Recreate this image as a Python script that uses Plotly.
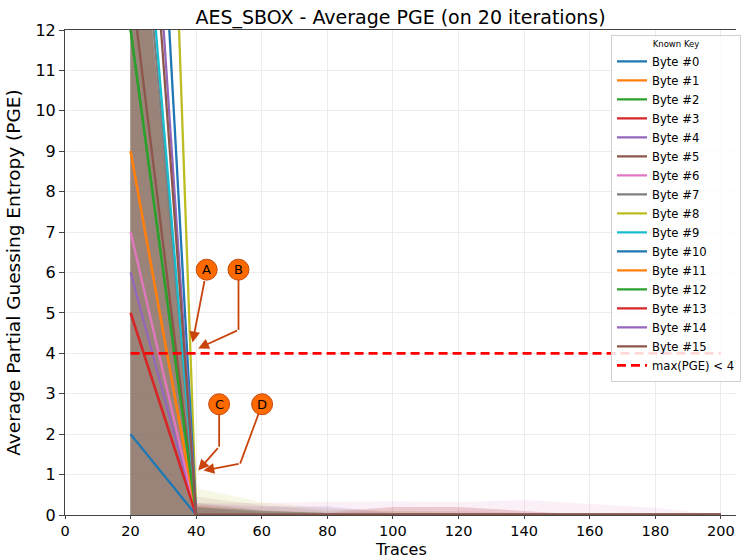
import plotly.graph_objects as go

# ---------------- data ----------------
traces_x = [20, 40, 60, 80, 100, 120, 140, 160, 180, 200]

byte_names = [f"Byte #{i}" for i in range(16)]
byte_colors = ["#1f77b4", "#ff7f0e", "#2ca02c", "#d62728", "#9467bd", "#8c564b",
               "#e377c2", "#7f7f7f", "#bcbd22", "#17becf", "#1f77b4", "#ff7f0e",
               "#2ca02c", "#d62728", "#9467bd", "#8c564b"]

# average PGE per byte (values at 20, 40, ..., 200 traces)
pge_byte0 = [2.0, 0, 0, 0, 0, 0, 0, 0, 0, 0]
pge_byte1 = [9.0, 0, 0, 0, 0, 0, 0, 0, 0, 0]
pge_byte2 = [12.0, 0, 0, 0, 0, 0, 0, 0, 0, 0]
pge_byte3 = [5.0, 0, 0, 0, 0, 0, 0, 0, 0, 0]
pge_byte4 = [6.0, 0, 0, 0, 0, 0, 0, 0, 0, 0]
pge_byte5 = [13.3, 0, 0, 0, 0, 0, 0, 0, 0, 0]
pge_byte6 = [7.0, 0, 0, 0, 0, 0, 0, 0, 0, 0]
pge_byte7 = [18.5, 0, 0, 0, 0, 0, 0, 0, 0, 0]
pge_byte8 = [46.0, 0, 0, 0, 0, 0, 0, 0, 0, 0]
pge_byte9 = [19.5, 0, 0, 0, 0, 0, 0, 0, 0, 0]
pge_byte10 = [29.3, 0, 0, 0, 0, 0, 0, 0, 0, 0]
pge_byte11 = [9.0, 0, 0, 0, 0, 0, 0, 0, 0, 0]
pge_byte12 = [12.0, 0, 0, 0, 0, 0, 0, 0, 0, 0]
pge_byte13 = [5.0, 0, 0, 0, 0, 0, 0, 0, 0, 0]
pge_byte14 = [24.2, 0, 0, 0, 0, 0, 0, 0, 0, 0]
pge_byte15 = [22.4, 0, 0, 0, 0, 0, 0, 0, 0, 0]
pge_means = [pge_byte0, pge_byte1, pge_byte2, pge_byte3, pge_byte4, pge_byte5,
             pge_byte6, pge_byte7, pge_byte8, pge_byte9, pge_byte10, pge_byte11,
             pge_byte12, pge_byte13, pge_byte14, pge_byte15]

# upper edge of the spread band per byte
band_byte0 = [17.8, 0.15, 0.10, 0.05, 0.02, 0.02, 0.0, 0.0, 0.0, 0.0]
band_byte1 = [17.8, 0.25, 0.12, 0.05, 0.05, 0.03, 0.0, 0.0, 0.0, 0.0]
band_byte2 = [17.8, 0.20, 0.10, 0.05, 0.02, 0.0, 0.0, 0.0, 0.0, 0.0]
band_byte3 = [17.8, 0.20, 0.08, 0.05, 0.05, 0.05, 0.0, 0.0, 0.0, 0.0]
band_byte4 = [17.8, 0.30, 0.22, 0.22, 0.05, 0.0, 0.0, 0.0, 0.0, 0.0]
band_byte5 = [17.8, 0.45, 0.25, 0.10, 0.20, 0.20, 0.10, 0.0, 0.0, 0.0]
band_byte6 = [17.8, 0.30, 0.30, 0.33, 0.34, 0.32, 0.37, 0.28, 0.18, 0.0]
band_byte7 = [17.8, 0.20, 0.10, 0.05, 0.02, 0.0, 0.0, 0.0, 0.0, 0.0]
band_byte8 = [17.8, 0.67, 0.32, 0.15, 0.10, 0.05, 0.05, 0.02, 0.0, 0.0]
band_byte9 = [17.8, 0.20, 0.10, 0.05, 0.02, 0.0, 0.0, 0.0, 0.0, 0.0]
band_byte10 = [17.8, 0.20, 0.10, 0.05, 0.02, 0.0, 0.0, 0.0, 0.0, 0.0]
band_byte11 = [17.8, 0.25, 0.12, 0.05, 0.02, 0.0, 0.0, 0.0, 0.0, 0.0]
band_byte12 = [17.8, 0.20, 0.10, 0.05, 0.02, 0.0, 0.0, 0.0, 0.0, 0.0]
band_byte13 = [17.8, 0.20, 0.05, 0.05, 0.20, 0.20, 0.10, 0.0, 0.0, 0.0]
band_byte14 = [17.8, 0.25, 0.20, 0.20, 0.05, 0.0, 0.0, 0.0, 0.0, 0.0]
band_byte15 = [17.8, 0.30, 0.12, 0.05, 0.10, 0.10, 0.05, 0.0, 0.0, 0.0]
band_uppers = [band_byte0, band_byte1, band_byte2, band_byte3, band_byte4, band_byte5,
               band_byte6, band_byte7, band_byte8, band_byte9, band_byte10, band_byte11,
               band_byte12, band_byte13, band_byte14, band_byte15]

threshold = 4
threshold_x = [20, 200]

x_ticks = [0, 20, 40, 60, 80, 100, 120, 140, 160, 180, 200]
y_ticks = list(range(0, 13))

# callouts: label, circle centre, optional bend point, arrow tip (data coords)
callouts = [
    ("A", (43.2, 6.07), None, (38.9, 4.27)),
    ("B", (52.9, 6.07), (52.9, 4.58), (40.6, 4.12)),
    ("C", (47.0, 2.74), (47.0, 1.69), (40.6, 1.10)),
    ("D", (60.1, 2.74), (53.4, 1.27), (42.2, 1.10)),
]

FONT = "DejaVu Sans"


def rgba(hex_color, a):
    h = hex_color.lstrip("#")
    r, g, b = int(h[0:2], 16), int(h[2:4], 16), int(h[4:6], 16)
    return f"rgba({r},{g},{b},{a})"


fig = go.Figure()

# bands first
for i in range(16):
    fig.add_trace(go.Scatter(
        x=traces_x, y=band_uppers[i], mode="lines", fill="tozeroy",
        line=dict(width=0, color=byte_colors[i]),
        fillcolor=rgba(byte_colors[i], 0.115),
        showlegend=False, hoverinfo="skip"))

# mean lines
for i in range(16):
    fig.add_trace(go.Scatter(
        x=traces_x, y=pge_means[i], mode="lines", name=byte_names[i],
        line=dict(width=2.3, color=byte_colors[i])))

fig.add_trace(go.Scatter(
    x=threshold_x, y=[threshold, threshold], mode="lines",
    name=f"max(PGE) < {threshold}",
    line=dict(width=2.6, color="#ff0000", dash="9px,5px")))

shapes = []
annotations = []
ARROW = "#c8440c"
for label, c, bend, tip in callouts:
    if bend is None:
        annotations.append(dict(x=tip[0], y=tip[1], ax=c[0], ay=c[1], xref="x", yref="y",
                                axref="x", ayref="y", text="", showarrow=True,
                                arrowhead=2, arrowsize=1.2, arrowwidth=1.8,
                                arrowcolor=ARROW, startstandoff=10))
    else:
        shapes.append(dict(type="line", xref="x", yref="y", x0=c[0], y0=c[1],
                           x1=bend[0], y1=bend[1], line=dict(color=ARROW, width=1.8)))
        annotations.append(dict(x=tip[0], y=tip[1], ax=bend[0], ay=bend[1], xref="x",
                                yref="y", axref="x", ayref="y", text="", showarrow=True,
                                arrowhead=2, arrowsize=1.2, arrowwidth=1.8,
                                arrowcolor=ARROW))
    shapes.append(dict(type="circle", xref="x", yref="y", xsizemode="pixel",
                       ysizemode="pixel", xanchor=c[0], yanchor=c[1],
                       x0=-10.5, x1=10.5, y0=-10.5, y1=10.5,
                       fillcolor="#ff6a00", line=dict(color="#c04a10", width=1)))
    annotations.append(dict(x=c[0], y=c[1], xref="x", yref="y", text=label,
                            showarrow=False, font=dict(family=FONT, size=13, color="black")))

# x-axis title placed below the tick labels
annotations.append(dict(text="Traces", xref="paper", yref="paper", x=0.5,
                        y=-(560 - 515) / 485, xanchor="center", yanchor="bottom",
                        showarrow=False, borderpad=0,
                        font=dict(family=FONT, size=16, color="black")))

fig.update_layout(
    width=741, height=560,
    margin=dict(l=65, r=0, t=30, b=45),
    paper_bgcolor="white", plot_bgcolor="white",
    font=dict(family=FONT, size=15, color="black"),
    title=dict(text="AES_SBOX - Average PGE (on 20 iterations)", x=0.5, xref="paper",
               y=1 - 17 / 560, yref="container", yanchor="middle", xanchor="center",
               font=dict(family=FONT, size=19)),
    showlegend=True,
    legend=dict(x=0.814, y=0.99, xanchor="left", yanchor="top",
                bgcolor="rgba(255,255,255,0.85)", bordercolor="#d0d0d0", borderwidth=1,
                font=dict(family=FONT, size=11.6),
                title=dict(text="Known Key", side="top center",
                           font=dict(family=FONT, size=8.5))),
    shapes=shapes,
    annotations=annotations,
)

fig.update_xaxes(range=[0, 204.6], tickvals=x_ticks, ticks="outside", ticklen=3,
                 tickcolor="#444", showline=True, linecolor="#444", linewidth=1,
                 mirror=True, showgrid=True, gridcolor="#ececec", gridwidth=1,
                 zeroline=False, tickfont=dict(size=14.5))
fig.update_yaxes(range=[0, 12], tickvals=y_ticks, ticks="outside", ticklen=5,
                 tickcolor="#444", showline=True, linecolor="#444", linewidth=1,
                 showgrid=True, gridcolor="#ececec", gridwidth=1, zeroline=False,
                 tickfont=dict(size=16),
                 title=dict(text="Average Partial Guessing Entropy (PGE)",
                            font=dict(size=18.5), standoff=9))

fig.write_html("out.html")
